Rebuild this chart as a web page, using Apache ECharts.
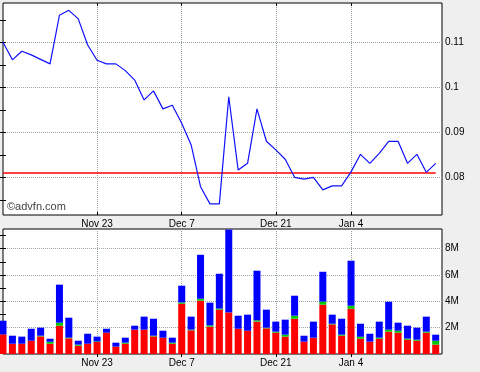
<!DOCTYPE html>
<html>
<head>
<meta charset="utf-8">
<script src="https://cdn.jsdelivr.net/npm/echarts@6/dist/echarts.min.js"></script>
<style>
html,body{margin:0;padding:0;background:#efefef;}
#c{width:480px;height:372px;}
</style>
</head>
<body>
<div id="c"></div>
<script>
// Trading days (category labels)
const dates = ['Nov 9','Nov 10','Nov 11','Nov 12','Nov 13','Nov 16','Nov 17','Nov 18','Nov 19','Nov 20',
  'Nov 23','Nov 24','Nov 25','Nov 27','Nov 30','Dec 1','Dec 2','Dec 3','Dec 4',
  'Dec 7','Dec 8','Dec 9','Dec 10','Dec 11','Dec 14','Dec 15','Dec 16','Dec 17','Dec 18',
  'Dec 21','Dec 22','Dec 23','Dec 24','Dec 28','Dec 29','Dec 30','Dec 31',
  'Jan 4','Jan 5','Jan 6','Jan 7','Jan 8','Jan 11','Jan 12','Jan 13','Jan 14','Jan 15'];
const xTickLabels = ['Nov 23','Dec 7','Dec 21','Jan 4'];

const price = [0.1100,0.1061,0.1080,0.1072,0.1062,0.1052,0.1160,0.1171,0.1152,0.1094,
  0.1060,0.1052,0.1052,0.1037,0.1016,0.0972,0.0992,0.0952,0.0960,
  0.0920,0.0872,0.0779,0.0741,0.0741,0.0979,0.0816,0.0831,0.0952,0.0880,
  0.0861,0.0840,0.0800,0.0796,0.0800,0.0772,0.0781,0.0781,
  0.0812,0.0851,0.0831,0.0853,0.0880,0.0880,0.0831,0.0851,0.0811,0.0831];
const refLevel = 0.0811;

// Volume in millions
const volRed = [1.49,0.78,0.78,1.01,1.34,0.78,2.15,1.19,0.63,0.78,
  0.91,1.62,0.56,0.78,1.85,1.85,1.34,1.24,0.78,
  3.82,1.80,4.05,2.08,3.37,3.16,1.92,1.77,2.46,1.95,
  1.62,1.32,2.68,0.94,1.24,3.75,2.25,1.39,
  3.44,1.16,0.94,1.16,1.70,1.62,1.09,1.01,1.62,0.71];
const volGreen = [0,0,0,0,0.05,0.15,0.23,0.05,0.08,0,
  0.05,0,0,0.08,0,0,0.05,0,0.08,
  0.10,0.05,0.15,0.10,0.08,0,0,0,0.10,0.05,
  0.08,0.15,0.23,0,0,0.23,0.05,0.08,
  0.23,0.15,0,0.08,0.15,0.15,0.08,0.08,0.08,0.30];
const volBlue = [1.04,0.61,0.54,0.91,0.61,0.23,2.89,1.52,0.30,0.76,
  0.36,0.30,0.30,0.38,0.30,0.99,1.29,0.53,0.38,
  1.27,0.99,3.34,1.72,2.65,6.29,0.99,1.22,3.77,1.37,
  0.76,1.14,1.52,0.45,1.22,2.27,0.69,1.21,
  3.42,0.99,0.60,1.22,2.12,0.61,0.98,0.91,1.14,0.46];

const priceLabels = [0.08,0.09,0.1,0.11];
const priceTicks = [0.075,0.085,0.095,0.105,0.115];
const volLabels = [2,4,6,8];
const volTicks = [1,3,5,7,9];

const tickPos = xTickLabels.map(l => dates.indexOf(l));
const xMax = 46.67;
const FONT = "'Liberation Sans', Arial, sans-serif";
const gridLine = {color:'#9aa6a6', width:1, type:[1,1]};
const tickLine = {color:'#000', width:1};

function xAxes(gi) {
  return [
    {gridIndex:gi, type:'value', min:0, max:xMax, position:'bottom',
     axisLine:{show:false},
     axisTick:{show:true, inside:true, length:3, customValues:tickPos, lineStyle:tickLine},
     axisLabel:{show:true, customValues:tickPos, formatter:v => dates[Math.round(v)],
       fontSize:10, fontFamily:FONT, color:'#000', margin:4},
     splitLine:{show:true, lineStyle:gridLine}},
    {gridIndex:gi, type:'value', min:0, max:xMax, position:'top',
     axisLine:{show:false},
     axisTick:{show:true, inside:true, length:3, customValues:tickPos, lineStyle:tickLine},
     axisLabel:{show:false}, splitLine:{show:false}}
  ];
}
function yAxes(gi, min, max, labs, minor, fmt) {
  const ax = [
    {gridIndex:gi, type:'value', min:min, max:max, position:'right',
     axisLine:{show:false},
     axisTick:{show:false, customValues:labs},
     axisLabel:{customValues:labs, formatter:fmt, fontSize:10, fontFamily:FONT, color:'#000', margin:3},
     splitLine:{show:true, lineStyle:gridLine}}
  ];
  ['right','left'].forEach(p => ax.push(
    {gridIndex:gi, type:'value', min:min, max:max, position:p,
     axisLine:{show:false},
     axisTick:{show:true, inside:true, length:3, customValues:minor.concat(labs), lineStyle:tickLine},
     axisLabel:{show:false}, splitLine:{show:false}}));
  return ax;
}

function barSeries(vals, color) {
  // value first so that stacking happens on the volume (y) dimension
  return {type:'bar', xAxisIndex:2, yAxisIndex:3, stack:'vol', barWidth:7,
    encode:{x:1, y:0},
    data:vals.map((v,i)=>[v,i]), itemStyle:{color:color}};
}

const chart = echarts.init(document.getElementById('c'), null, {renderer:'canvas'});
chart.setOption({
  animation:false,
  backgroundColor:'#efefef',
  textStyle:{fontFamily:FONT},
  grid:[
    {left:3, top:3, width:439, height:212, show:true, backgroundColor:'#fff', borderColor:'#000', borderWidth:1},
    {left:3, top:229, width:439, height:125, show:true, backgroundColor:'#fff', borderColor:'#000', borderWidth:1}
  ],
  xAxis: xAxes(0).concat(xAxes(1)),
  yAxis: yAxes(0, 0.07162, 0.11873, priceLabels, priceTicks, v => String(+(+v).toFixed(3)))
    .concat(yAxes(1, 0, 9.5, volLabels, volTicks, v => Math.round(v) + 'M')),
  graphic:[{type:'text', left:7, top:201, z:100,
    style:{text:'\u00a9advfn.com', font:"11px " + FONT, fill:'#444'}}],
  series:[
    {type:'line', xAxisIndex:0, yAxisIndex:0, data:price.map((v,i)=>[i,v]),
     symbol:'none', lineStyle:{color:'#1010ff', width:1.2}, itemStyle:{color:'#1010ff'}, z:5,
     markLine:{silent:true, symbol:'none', label:{show:false},
       lineStyle:{color:'#ff0000', width:1.5, type:'solid'},
       data:[[{coord:[0, refLevel]},{coord:[price.length-1, refLevel]}]]}},
    barSeries(volRed, '#ff0000'),
    barSeries(volGreen, '#00c800'),
    barSeries(volBlue, '#0000ff')
  ]
});
</script>
</body>
</html>
